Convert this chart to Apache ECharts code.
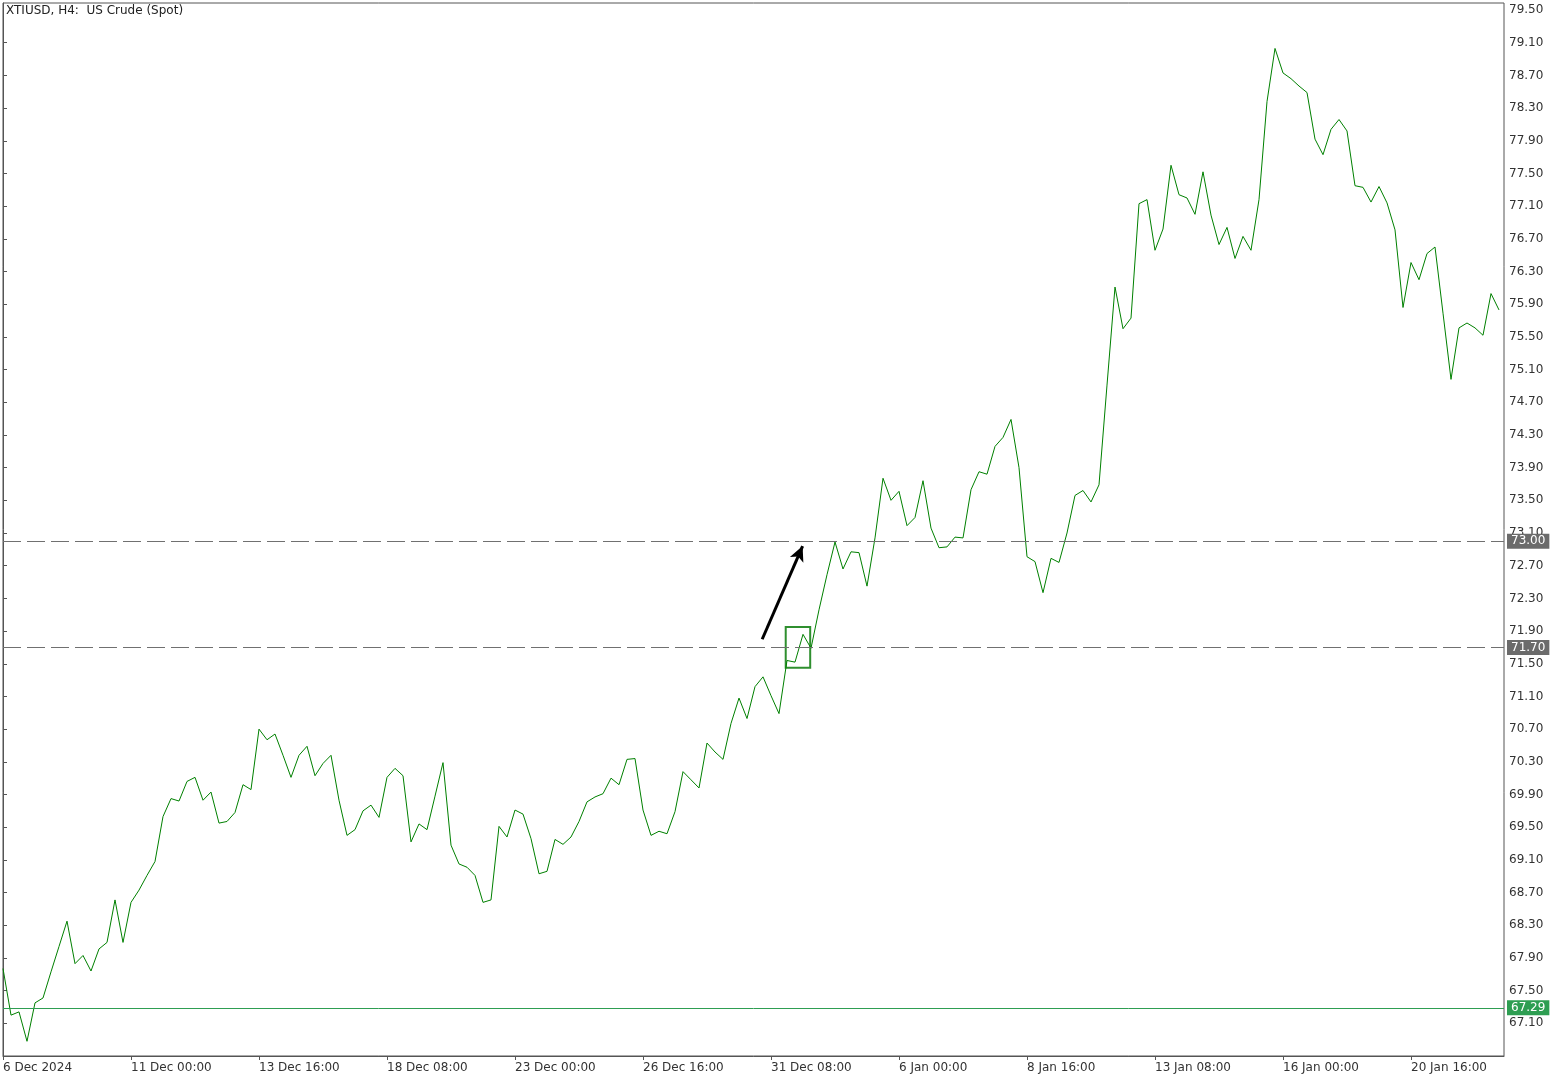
<!DOCTYPE html>
<html>
<head>
<meta charset="utf-8">
<title>XTIUSD H4</title>
<script src="https://cdn.jsdelivr.net/npm/echarts@6/dist/echarts.min.js"></script>
<style>
	html, body { margin: 0; padding: 0; background: #fff; }
	#chart { width: 1560px; height: 1080px; }
</style>
</head>
<body>
<div id="chart"></div>
<script>
// H4 closes, one per bar, 6 Dec 2024 .. 21 Jan 2025
var closes = [
	67.77, 67.20, 67.24, 66.88, 67.35, 67.41, 67.73, 68.04, 68.35, 67.83,
	67.93, 67.74, 68.01, 68.09, 68.61, 68.09, 68.58, 68.73, 68.91, 69.08,
	69.63, 69.85, 69.82, 70.06, 70.11, 69.83, 69.93, 69.55, 69.57, 69.68,
	70.02, 69.96, 70.70, 70.57, 70.64, 70.38, 70.11, 70.38, 70.49, 70.13,
	70.28, 70.38, 69.83, 69.40, 69.47, 69.70, 69.77, 69.62, 70.11, 70.22,
	70.13, 69.32, 69.54, 69.47, 69.88, 70.29, 69.28, 69.05, 69.01, 68.91,
	68.58, 68.61, 69.51, 69.38, 69.71, 69.66, 69.36, 68.93, 68.96, 69.35,
	69.29, 69.38, 69.57, 69.81, 69.87, 69.91, 70.10, 70.02, 70.33, 70.34,
	69.71, 69.40, 69.45, 69.42, 69.69, 70.18, 70.08, 69.98, 70.53, 70.42,
	70.33, 70.77, 71.08, 70.83, 71.22, 71.34, 71.11, 70.89, 71.54, 71.52,
	71.86, 71.69, 72.16, 72.59, 72.99, 72.66, 72.87, 72.86, 72.45, 73.04,
	73.77, 73.50, 73.61, 73.19, 73.29, 73.74, 73.16, 72.92, 72.93, 73.05,
	73.04, 73.63, 73.85, 73.82, 74.16, 74.27, 74.49, 73.90, 72.81, 72.75,
	72.37, 72.79, 72.74, 73.10, 73.56, 73.62, 73.48, 73.69, 74.91, 76.11,
	75.60, 75.73, 77.13, 77.18, 76.56, 76.82, 77.60, 77.24, 77.20, 77.00,
	77.52, 76.99, 76.63, 76.84, 76.46, 76.73, 76.56, 77.18, 78.38, 79.03,
	78.73, 78.66, 78.57, 78.49, 77.92, 77.73, 78.04, 78.16, 78.02, 77.35,
	77.33, 77.15, 77.34, 77.14, 76.81, 75.86, 76.41, 76.20, 76.52, 76.60,
	75.79, 74.98, 75.61, 75.67, 75.61, 75.52, 76.03, 75.83
];

// time axis labels, one every 16 bars
var timeLabels = [
	'6 Dec 2024', '11 Dec 00:00', '13 Dec 16:00', '18 Dec 08:00',
	'23 Dec 00:00', '26 Dec 16:00', '31 Dec 08:00', '6 Jan 00:00',
	'8 Jan 16:00', '13 Jan 08:00', '16 Jan 00:00', '20 Jan 16:00'
];
var barsPerLabel = 16;

// price levels drawn across the chart
var levelPrices = [73.00, 71.70];
var bidPrice = 67.29;

// annotation box and arrow, in bar index / price
var boxCorners = [[97.84, 71.95], [100.9, 71.45]];
var arrowEnds = [[94.9, 71.80], [99.95, 72.94]];

/**
 * Price tag shown at the right end of a level line
 */
function priceTag(price, bg, font) {
	return {
		show: true,
		position: 'end',
		distance: 3,
		formatter: price.toFixed(2),
		color: '#fff',
		backgroundColor: bg,
		padding: [2, 4, 1, 4],
		fontFamily: font,
		fontSize: 12
	};
}

/**
 * Draw the H4 line chart
 *
 * @param id  draw area id
 */
function drawPriceChart(id) {
	var chart = echarts.init(document.getElementById(id));
	var font = 'DejaVu Sans';

	var points = [];
	for (var i = 0; i < closes.length; i++) {
		points.push([i, closes[i]]);
	}

	var lines = [];
	for (var k = 0; k < levelPrices.length; k++) {
		lines.push({
			yAxis: levelPrices[k],
			lineStyle: { color: '#707070', width: 1, type: [18, 6] },
			label: priceTag(levelPrices[k], '#6b6b6b', font)
		});
	}
	lines.push({
		yAxis: bidPrice,
		lineStyle: { color: '#2e9e52', width: 1, type: 'solid' },
		label: priceTag(bidPrice, '#2e9e52', font)
	});
	lines.push([
		{ coord: arrowEnds[0], symbol: 'none' },
		{
			coord: arrowEnds[1], symbol: 'arrow', symbolSize: [11, 15],
			lineStyle: { color: '#000', width: 3, type: 'solid' },
			label: { show: false }
		}
	]);

	var option = {
		animation: false,
		backgroundColor: '#fff',
		title: {
			text: 'XTIUSD, H4:  US Crude (Spot)',
			left: 4,
			top: 4,
			padding: [1, 2],
			backgroundColor: '#fff',
			textStyle: { fontFamily: font, fontSize: 12, fontWeight: 'normal', color: '#222' }
		},
		grid: {
			left: 3, right: 56, top: 3, bottom: 24,
			show: true,
			borderColor: '#555',
			borderWidth: 1,
			backgroundColor: '#fff'
		},
		xAxis: {
			type: 'value',
			min: 0,
			max: 187.625,
			interval: barsPerLabel,
			axisLine: { lineStyle: { color: '#555' } },
			axisTick: { show: true, length: 4, lineStyle: { color: '#555' } },
			splitLine: { show: false },
			axisLabel: {
				showMaxLabel: false,
				align: 'left',
				margin: 6,
				color: '#333',
				fontFamily: font,
				fontSize: 12,
				formatter: function (v) {
					var n = v / barsPerLabel;
					return n % 1 === 0 && timeLabels[n] ? timeLabels[n] : '';
				}
			}
		},
		yAxis: {
			type: 'value',
			position: 'right',
			min: 66.70,
			max: 79.586,
			interval: 0.4,
			axisLine: { show: true, lineStyle: { color: '#555' } },
			axisTick: { show: true, length: 4, lineStyle: { color: '#555' } },
			splitLine: { show: false },
			axisLabel: {
				showMinLabel: false,
				showMaxLabel: false,
				margin: 5,
				color: '#333',
				fontFamily: font,
				fontSize: 12,
				formatter: function (v) { return v.toFixed(2); }
			}
		},
		series: [{
			name: 'XTIUSD',
			type: 'line',
			data: points,
			symbol: 'none',
			lineStyle: { color: '#008000', width: 1 },
			markLine: {
				silent: true,
				symbol: ['none', 'none'],
				data: lines
			},
			markArea: {
				silent: true,
				itemStyle: { color: 'rgba(0,0,0,0)', borderColor: '#2f8f2f', borderWidth: 2 },
				data: [[{ coord: boxCorners[0] }, { coord: boxCorners[1] }]]
			}
		}]
	};
	chart.setOption(option);
}

drawPriceChart('chart');
</script>
</body>
</html>
